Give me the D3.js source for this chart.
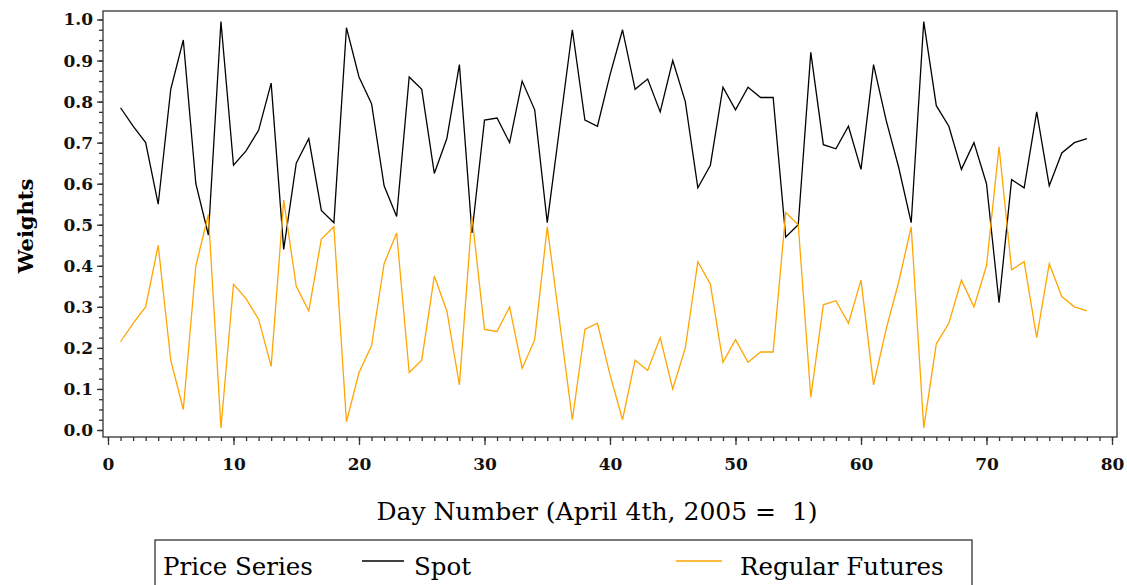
<!DOCTYPE html>
<html>
<head>
<meta charset="utf-8">
<script src="https://cdn.jsdelivr.net/npm/d3@7"></script>
<style>
  body { margin: 0; background: #fff; }
  svg { display: block; font-family: "DejaVu Serif", serif; }
</style>
</head>
<body>
<svg id="grafico" width="1127" height="585"></svg>
<script>
// Dias e pesos.
const dias = d3.range(1, 79);

const spot = [
  0.785, 0.74, 0.70, 0.55, 0.83, 0.95, 0.60, 0.475, 0.995, 0.645,
  0.68, 0.73, 0.845, 0.44, 0.65, 0.71, 0.535, 0.505, 0.98, 0.86,
  0.795, 0.595, 0.52, 0.86, 0.83, 0.625, 0.71, 0.89, 0.48, 0.755,
  0.76, 0.70, 0.85, 0.78, 0.505, 0.74, 0.975, 0.755, 0.74, 0.865,
  0.975, 0.83, 0.855, 0.775, 0.90, 0.80, 0.59, 0.645, 0.835, 0.78,
  0.835, 0.81, 0.81, 0.47, 0.50, 0.92, 0.695, 0.685, 0.74, 0.635,
  0.89, 0.755, 0.64, 0.505, 0.995, 0.79, 0.74, 0.635, 0.70, 0.60,
  0.31, 0.61, 0.59, 0.775, 0.595, 0.675, 0.70, 0.71
];

const futuros = [
  0.215, 0.26, 0.30, 0.45, 0.17, 0.05, 0.40, 0.525, 0.005, 0.355,
  0.32, 0.27, 0.155, 0.56, 0.35, 0.29, 0.465, 0.495, 0.02, 0.14,
  0.205, 0.405, 0.48, 0.14, 0.17, 0.375, 0.29, 0.11, 0.52, 0.245,
  0.24, 0.30, 0.15, 0.22, 0.495, 0.26, 0.025, 0.245, 0.26, 0.135,
  0.025, 0.17, 0.145, 0.225, 0.10, 0.20, 0.41, 0.355, 0.165, 0.22,
  0.165, 0.19, 0.19, 0.53, 0.50, 0.08, 0.305, 0.315, 0.26, 0.365,
  0.11, 0.245, 0.36, 0.495, 0.005, 0.21, 0.26, 0.365, 0.30, 0.40,
  0.69, 0.39, 0.41, 0.225, 0.405, 0.325, 0.30, 0.29
];

const ticksX = d3.range(0, 81, 10);
const ticksY = d3.range(0, 11).map(i => i / 10);

const series = [
  { nome: "Spot", valores: spot, cor: "#000000" },
  { nome: "Regular Futures", valores: futuros, cor: "#FFA500" }
];

const svg = d3.select("#grafico");

// Escalas (área do gráfico).
const x = d3.scaleLinear().domain([0, 80]).range([108, 1112]);
const y = d3.scaleLinear().domain([0, 1]).range([430, 19.5]);

const frame = { left: 103, right: 1117, top: 11, bottom: 437 };

// Moldura.
svg.append("rect")
  .attr("x", frame.left).attr("y", frame.top)
  .attr("width", frame.right - frame.left)
  .attr("height", frame.bottom - frame.top)
  .attr("fill", "none").attr("stroke", "#333").attr("stroke-width", 1.3);

// Eixo X: ticks maiores com rótulos, menores sem.
const eixoX = svg.append("g").attr("transform", `translate(0,${frame.bottom})`);
eixoX.call(d3.axisBottom(x).tickValues(d3.range(0, 81, 1)).tickSize(4).tickFormat(""))
  .call(g => g.select(".domain").remove());
eixoX.append("g")
  .call(d3.axisBottom(x).tickValues(ticksX).tickSize(8).tickPadding(13).tickFormat(d3.format("d")))
  .call(g => g.select(".domain").remove());

// Eixo Y.
const eixoY = svg.append("g").attr("transform", `translate(${frame.left},0)`);
eixoY.call(d3.axisLeft(y).tickValues(d3.range(0, 41).map(i => i / 40)).tickSize(4).tickFormat(""))
  .call(g => g.select(".domain").remove());
eixoY.append("g")
  .call(d3.axisLeft(y).tickValues(ticksY).tickSize(6).tickPadding(4).tickFormat(d3.format(".1f")))
  .call(g => g.select(".domain").remove());

svg.selectAll(".tick line").attr("stroke", "#333").attr("stroke-width", 1.3);
svg.selectAll(".tick text")
  .attr("font-family", "DejaVu Serif")
  .attr("font-weight", "bold")
  .attr("font-size", 17)
  .attr("fill", "#111");

// Linhas das séries.
const linha = d3.line()
  .x((d, i) => x(dias[i]))
  .y(d => y(d));

svg.selectAll(".serie")
  .data(series)
  .enter()
  .append("path")
  .attr("class", "serie")
  .attr("d", s => linha(s.valores))
  .attr("fill", "none")
  .attr("stroke", s => s.cor)
  .attr("stroke-width", 1.3);

// Títulos dos eixos.
svg.append("text")
  .attr("transform", "translate(33,226) rotate(-90)")
  .attr("text-anchor", "middle")
  .attr("font-weight", "bold")
  .attr("font-size", 21)
  .text("Weights");

svg.append("text")
  .attr("x", 597).attr("y", 520)
  .attr("text-anchor", "middle")
  .attr("font-size", 25)
  .style("white-space", "pre")
  .text("Day Number (April 4th, 2005 =  1)");

// Legenda.
const legenda = svg.append("g");
legenda.append("rect")
  .attr("x", 155).attr("y", 540)
  .attr("width", 817).attr("height", 60)
  .attr("fill", "none").attr("stroke", "#333").attr("stroke-width", 1.3);

legenda.append("text")
  .attr("x", 163).attr("y", 575)
  .attr("font-size", 24.5)
  .text("Price Series");

const itens = [
  { serie: series[0], x1: 362, x2: 404, tx: 414 },
  { serie: series[1], x1: 676, x2: 722, tx: 740 }
];
itens.forEach(it => {
  legenda.append("line")
    .attr("x1", it.x1).attr("x2", it.x2)
    .attr("y1", 561).attr("y2", 561)
    .attr("stroke", it.serie.cor).attr("stroke-width", 1.3);
  legenda.append("text")
    .attr("x", it.tx).attr("y", 575)
    .attr("font-size", 24.5)
    .text(it.serie.nome);
});
</script>
</body>
</html>
